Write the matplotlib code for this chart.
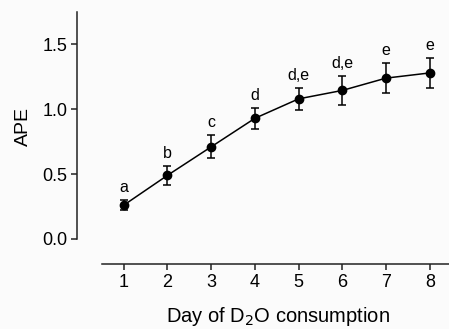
import matplotlib
matplotlib.use("Agg")
import matplotlib.pyplot as plt

days = [1, 2, 3, 4, 5, 6, 7, 8]
ape = [0.26, 0.49, 0.71, 0.93, 1.08, 1.145, 1.24, 1.28]
err = [0.04, 0.075, 0.09, 0.08, 0.085, 0.115, 0.115, 0.115]
labels = ["a", "b", "c", "d", "d,e", "d,e", "e", "e"]
yticks = [0.0, 0.5, 1.0, 1.5]
xticks = [1, 2, 3, 4, 5, 6, 7, 8]

plt.rcParams['font.family'] = ['Liberation Sans', 'DejaVu Sans']

W, H = 449, 329
AX_L, AX_B, AX_T = 77, 65, 317
fig = plt.figure(figsize=(W / 100, H / 100), dpi=100, facecolor='#fbfbfb')
ax = fig.add_axes([AX_L / W, AX_B / H, (W - AX_L) / W, (AX_T - AX_B) / H])
ax.set_facecolor('#fbfbfb')

ax.errorbar(days, ape, yerr=err, fmt='o-', color='black', ms=6, lw=1.1,
            elinewidth=1.1, capsize=3, capthick=1.1)
for x, y, e, t in zip(days, ape, err, labels):
    ax.annotate(t, (x, y + e), xytext=(0, 3.5), textcoords='offset points',
                ha='center', va='bottom', fontsize=11.5)

ax.set_xlim(-0.07, 8.44)
ax.set_ylim(-0.194, 1.75)
ax.spines['top'].set_visible(False)
ax.spines['right'].set_visible(False)
ax.spines['left'].set_bounds(0, 1.75)
ax.spines['bottom'].set_bounds(0.5, 8.44)
for s in ('left', 'bottom'):
    ax.spines[s].set_linewidth(1.1)
    ax.spines[s].set_color('#222222')

ax.set_yticks(yticks)
ax.set_yticklabels([f"{v:.1f}" for v in yticks])
ax.set_xticks(xticks)
ax.tick_params(axis='both', labelsize=13, length=4.5, width=1.1, color='#222222', pad=2.5)
ax.set_ylabel('APE', fontsize=14)
ax.yaxis.set_label_coords(-45 / (W - AX_L), ((H - 126) - AX_B) / (AX_T - AX_B))
ax.set_xlabel('Day of D$_2$O consumption', fontsize=14.5)
ax.xaxis.set_label_coords((278 - AX_L) / (W - AX_L), -41 / (AX_T - AX_B))

fig.savefig('out.png', dpi=100, facecolor=fig.get_facecolor())
